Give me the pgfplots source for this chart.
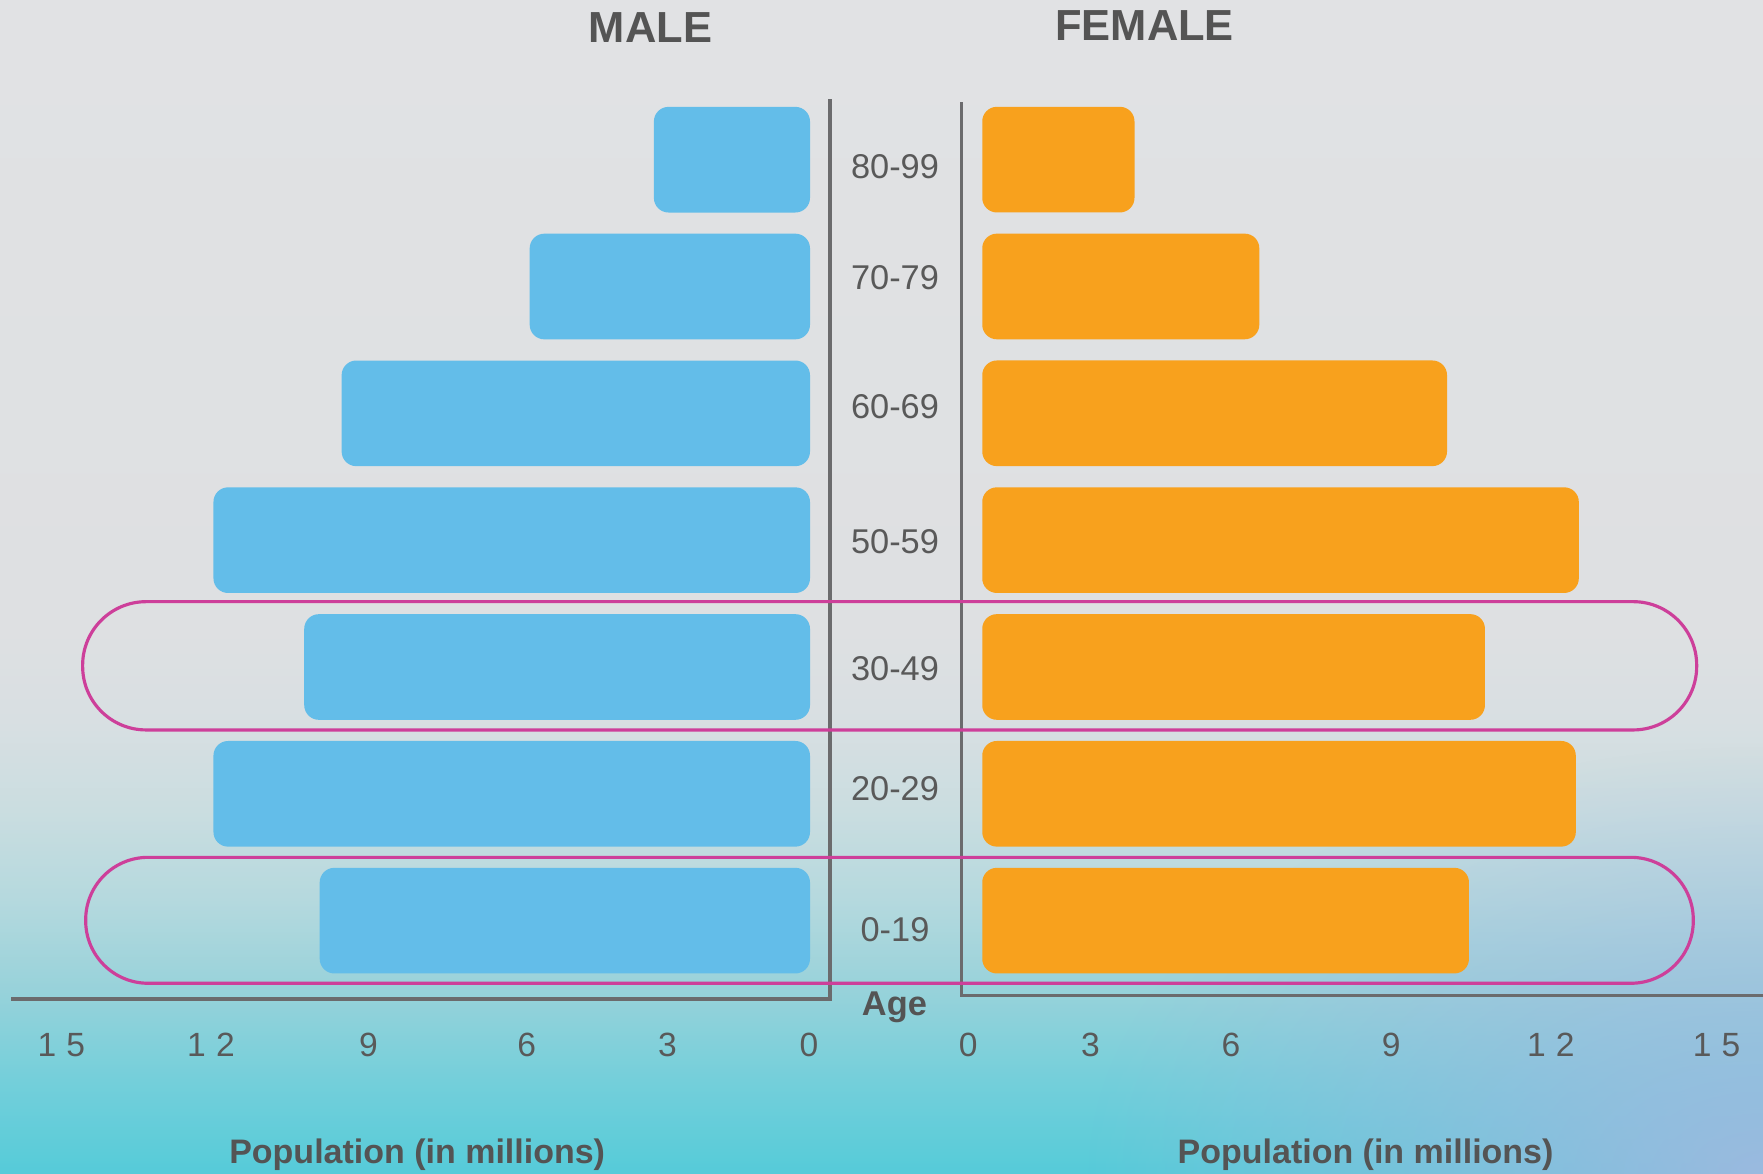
\documentclass[border=0pt]{standalone}
\usepackage{fontspec}
\setmainfont{Liberation Sans}
\usepackage{pgfplots}
\pgfplotsset{compat=1.18}
\usetikzlibrary{fadings}
\definecolor{malec}{HTML}{63BDE9}
\definecolor{femc}{HTML}{F8A11D}
\definecolor{ringc}{HTML}{CD3F9A}
\definecolor{axc}{HTML}{6B6B6D}
\definecolor{txt}{HTML}{595959}
\definecolor{ttl}{HTML}{545454}
\definecolor{lav}{HTML}{A2B8E0}
\definecolor{b0}{HTML}{55CBD9}
\definecolor{b1}{HTML}{74CFDA}
\definecolor{b2}{HTML}{98D2DA}
\definecolor{b3}{HTML}{B5D9DE}
\definecolor{b4}{HTML}{CADDE0}
\definecolor{b5}{HTML}{D8DFE2}
\definecolor{b6}{HTML}{DEE0E2}
\definecolor{b7}{HTML}{E1E2E4}
\pgfdeclareverticalshading{bgsh}{100bp}{color(0bp)=(b0); color(25bp)=(b0); color(29bp)=(b1); color(32.9bp)=(b2); color(36.7bp)=(b3); color(40.5bp)=(b4); color(44.3bp)=(b5); color(48.1bp)=(b6); color(75bp)=(b7); color(100bp)=(b7)}
\tikzfading[name=radfade, inner color=transparent!0, outer color=transparent!100]
\begin{document}
\begin{tikzpicture}
\useasboundingbox (0,0) rectangle (15.68,10.44);
\shade[shading=bgsh] (0,0) rectangle (15.68,10.44);
\begin{scope}
\clip (0,0) rectangle (15.68,10.44);
\fill[lav, path fading=radfade, fill opacity=0.9] (15.68,0) ellipse [x radius=6cm, y radius=3.8cm];
\end{scope}

% MALE axis
\begin{axis}[
  at={(0.102cm,1.555cm)}, anchor=south west, scale only axis,
  width=7.28cm, height=8.002cm,
  x dir=reverse, y dir=reverse,
  xmin=-0.401, xmax=16.01, ymin=-0.476, ymax=6.618,
  xbar, bar width=0.833, clip=false,
  axis line style={draw=none}, major tick length=0pt, tick style={draw=none},
  ytick=\empty,
  xtick={0.02,2.86,5.68,8.85,12.01,15.01},
  xticklabels={0,3,6,9,1\kern2.6pt 2,1\kern2.6pt 5},
  xticklabel style={anchor=base, yshift=-0.507cm, font=\fontsize{8.5}{10}\selectfont, text=txt},
]
\addplot[fill=malec, draw=none, rounded corners=0.13cm] coordinates {(3.13,0) (5.62,1) (9.39,2) (11.96,3) (10.14,4) (11.96,5) (9.83,6)};
\draw[axc, line width=0.8pt, line join=miter] (axis cs:-0.401,-0.476) -- (axis cs:-0.401,6.618) -- (axis cs:16.01,6.618);
\end{axis}

% FEMALE axis
\begin{axis}[
  at={(8.553cm,1.59cm)}, anchor=south west, scale only axis,
  width=7.127cm, height=7.94cm,
  y dir=reverse,
  xmin=-0.412, xmax=15.64, ymin=-0.452, ymax=6.587,
  xbar, bar width=0.833, clip=false,
  axis line style={draw=none}, major tick length=0pt, tick style={draw=none},
  ytick={0.053,0.934,1.95,3.01,4.01,4.96,6.07},
  yticklabels={80-99,70-79,60-69,50-59,30-49,20-29,0-19},
  yticklabel style={anchor=center, xshift=-0.593cm, font=\fontsize{8.7}{10}\selectfont, text=txt},
  xtick={-0.28,2.17,4.98,8.19,11.39,14.71},
  xticklabels={0,3,6,9,1\kern2.6pt 2,1\kern2.6pt 5},
  xticklabel style={anchor=base, yshift=-0.542cm, font=\fontsize{8.5}{10}\selectfont, text=txt},
]
\addplot[fill=femc, draw=none, rounded corners=0.13cm] coordinates {(3.05,0) (5.55,1) (9.31,2) (11.95,3) (10.07,4) (11.89,5) (9.75,6)};
\draw[axc, line width=0.8pt, line join=miter] (axis cs:-0.412,-0.452) -- (axis cs:-0.412,6.587) -- (axis cs:15.64,6.587);
\end{axis}

% highlight rings
\draw[ringc, line width=0.8pt, rounded corners=0.565cm] (0.735,3.948) rectangle (15.09,5.089);
\draw[ringc, line width=0.8pt, rounded corners=0.555cm] (0.762,1.695) rectangle (15.06,2.815);

% titles and labels
\node[anchor=base, inner sep=0pt, font=\bfseries\fontsize{11}{13}\selectfont, text=ttl] at (5.785,10.06) {MALE};
\node[anchor=base, inner sep=0pt, font=\bfseries\fontsize{11}{13}\selectfont, text=ttl] at (10.18,10.08) {FEMALE};
\node[anchor=base, inner sep=0pt, font=\bfseries\fontsize{8.7}{10}\selectfont, text=ttl] at (7.955,1.41) {Age};
\node[anchor=base, inner sep=0pt, font=\bfseries\fontsize{8.6}{10}\selectfont, text=ttl] at (3.71,0.088) {Population (in millions)};
\node[anchor=base, inner sep=0pt, font=\bfseries\fontsize{8.6}{10}\selectfont, text=ttl] at (12.145,0.088) {Population (in millions)};
\end{tikzpicture}
\end{document}
